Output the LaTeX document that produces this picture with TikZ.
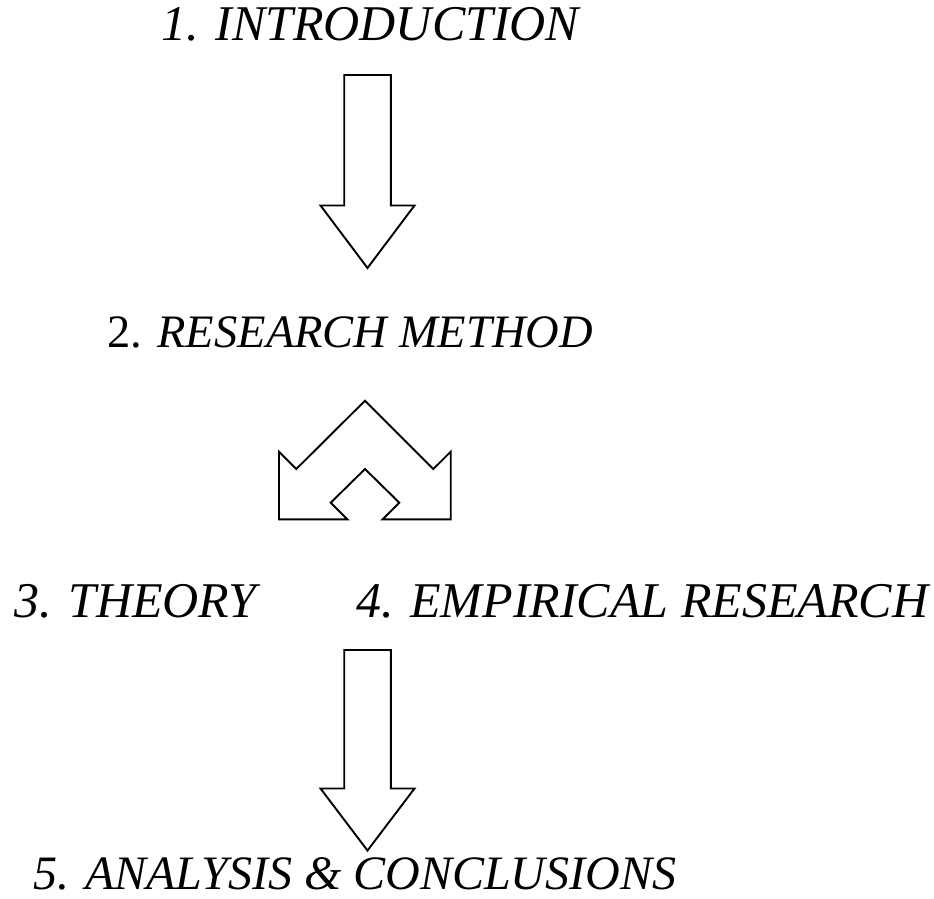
\documentclass[tikz,border=0pt]{standalone}
\usepackage{fontspec}
\setmainfont{Liberation Serif}
\usetikzlibrary{calc}

\begin{document}
\begin{tikzpicture}[x=1pt,y=-1pt,
      lbl/.style={anchor=base west,inner sep=0pt,font=\fontsize{50}{60}\selectfont\itshape},
      blk/.style={draw=black,line width=1.9pt,line join=miter}]
    \useasboundingbox (0,0) rectangle (934,898);
    % block arrow 1 -> 2
    \coordinate (A1) at (367.5,75);
    \draw[blk] ($(A1)+(-23.3,0)$) -- ++(0,130.5) -- ++(-23.7,0) -- ++(47,62.5)
      -- ++(47,-62.5) -- ++(-23.7,0) -- ++(0,-130.5) -- cycle;
    % split arrow 2 -> 3,4
    \coordinate (A2) at (365,400.7);
    \draw[blk] (A2) -- ++(68.3,68.3) -- ++(17.4,-17.3) -- ++(0,67.6) -- ++(-68,0)
      -- ++(16.6,-16.6) -- ++(-34.3,-33.7) -- ++(-34.3,33.7) -- ++(16.6,16.6)
      -- ++(-68.3,0) -- ++(0,-67.6) -- ++(17.3,17.3) -- cycle;
    % block arrow 4 -> 5
    \coordinate (A3) at (367.5,650);
    \draw[blk] ($(A3)+(-23.3,0)$) -- ++(0,138.5) -- ++(-23.7,0) -- ++(47,62)
      -- ++(47,-62) -- ++(-23.7,0) -- ++(0,-138.5) -- cycle;
    % headings
    \node[lbl] (intro) at (161,40) {1. INTRODUCTION};
    \node[lbl,font=\fontsize{46.5}{56}\selectfont\itshape] (method) at (107,347) {\upshape 2. \itshape RESEARCH METHOD};
    \node[lbl] (theory) at (14,617) {3. THEORY};
    \node[lbl] (empir) at (356,617) {4. EMPIRICAL RESEARCH};
    \node[lbl,font=\fontsize{48}{58}\selectfont\itshape] (concl) at (33,889) {5. ANALYSIS \& CONCLUSIONS};
\end{tikzpicture}
\end{document}
